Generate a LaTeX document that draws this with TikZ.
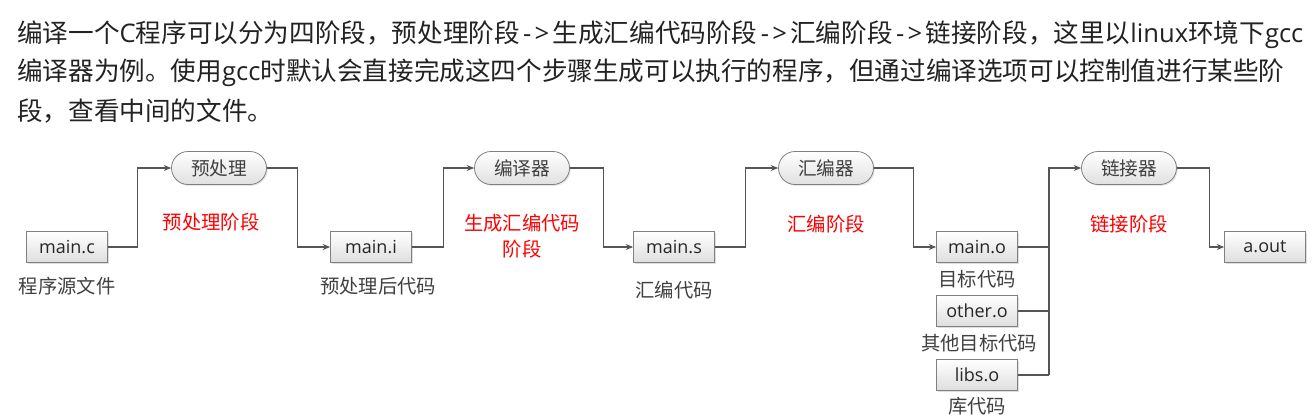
\documentclass[tikz,border=0pt]{standalone}
\usepackage{fontspec}
\setmainfont{Noto Sans CJK SC}
\newfontfamily\latinf{Open Sans}
\newcommand{\lat}[1]{{\latinf #1}}
\newcommand{\arr}{{\latinf\kern2.5pt-\kern2.5pt>\kern2.5pt}}
\usetikzlibrary{shapes.misc,shadows,arrows.meta}
\definecolor{txt}{HTML}{222222}
\definecolor{lbl}{HTML}{404040}
\definecolor{edge}{HTML}{555555}
\definecolor{bord}{HTML}{808080}
\begin{document}
\begin{tikzpicture}[x=0.75pt,y=-0.75pt,
  para/.style={anchor=west,inner sep=0pt,text=txt,font=\fontsize{19.2}{24}\selectfont},
  filebox/.style={draw=bord,line width=0.6pt,top color=white,bottom color=black!13,
    minimum width=60.75pt,minimum height=23.25pt,inner sep=0pt,
    font=\latinf\fontsize{13.5}{16}\selectfont,text=black!85,
    drop shadow={shadow xshift=1pt,shadow yshift=-1pt,opacity=0.25}},
  toolpill/.style={draw=bord,line width=0.6pt,rounded rectangle,top color=white,bottom color=black!12,
    minimum width=71.25pt,minimum height=24.75pt,inner sep=0pt,
    font=\fontsize{14}{16}\selectfont,text=black!75,
    drop shadow={shadow xshift=1pt,shadow yshift=-1pt,opacity=0.2}},
  sublabel/.style={inner sep=0pt,text=lbl,font=\fontsize{14.5}{18}\selectfont},
  stagelabel/.style={inner sep=0pt,text=red,align=center,font=\fontsize{14.5}{19}\selectfont},
  conn/.style={draw=edge,line width=0.8pt,-{Stealth[length=5.5pt,width=4.5pt]}},
  connplain/.style={draw=edge,line width=0.8pt}]
\useasboundingbox (0,0) rectangle (1312,419);
\node[para] (l1) at (17,35) {编译一个\lat{C}程序可以分为四阶段，预处理阶段\arr 生成汇编代码阶段\arr 汇编阶段\arr 链接阶段，这里以\lat{linux}环境下\lat{gcc}};
\node[para] (l2) at (17,73) {编译器为例。使用\lat{gcc}时默认会直接完成这四个步骤生成可以执行的程序，但通过编译选项可以控制值进行某些阶};
\node[para] (l3) at (17,111) {段，查看中间的文件。};

\node[filebox] (mainc) at (67,247) {main.c};
\node[filebox] (maini) at (371,247) {main.i};
\node[filebox] (mains) at (674,247) {main.s};
\node[filebox] (maino) at (977,247) {main.o};
\node[filebox] (othero) at (977,311) {other.o};
\node[filebox] (libso) at (977,375) {libs.o};
\node[filebox] (aout) at (1265,247) {a.out};

\node[toolpill] (pre) at (219,168) {预处理};
\node[toolpill] (cc) at (522,168) {编译器};
\node[toolpill] (as) at (826,168) {汇编器};
\node[toolpill] (ld) at (1129,168) {链接器};

\node[sublabel] (lc) at (67,286) {程序源文件};
\node[sublabel] (li) at (378,286) {预处理后代码};
\node[sublabel] (ls) at (674,290) {汇编代码};
\node[sublabel] (lo) at (977,279) {目标代码};
\node[sublabel] (lother) at (979,343) {其他目标代码};
\node[sublabel] (llibs) at (977,406) {库代码};

\node[stagelabel] (s1) at (211,222) {预处理阶段};
\node[stagelabel] (s2) at (522,236) {生成汇编代码\\阶段};
\node[stagelabel] (s3) at (826,224) {汇编阶段};
\node[stagelabel] (s4) at (1129,224) {链接阶段};

\draw[conn] (mainc.east) -- ++(30,0) |- (pre.west);
\draw[conn] (pre.east) -- ++(31,0) |- (maini.west);
\draw[conn] (maini.east) -- ++(32,0) |- (cc.west);
\draw[conn] (cc.east) -- ++(34,0) |- (mains.west);
\draw[conn] (mains.east) -- ++(31,0) |- (as.west);
\draw[conn] (as.east) -- ++(40,0) |- (maino.west);
\coordinate (join) at (1049,375);
\draw[connplain] (maino.east) -- (maino.east -| join);
\draw[connplain] (othero.east) -- (othero.east -| join);
\draw[connplain] (libso.east) -- (join);
\draw[conn] (join) |- (ld.west);
\draw[conn] (ld.east) -- ++(33,0) |- (aout.west);
\end{tikzpicture}
\end{document}
